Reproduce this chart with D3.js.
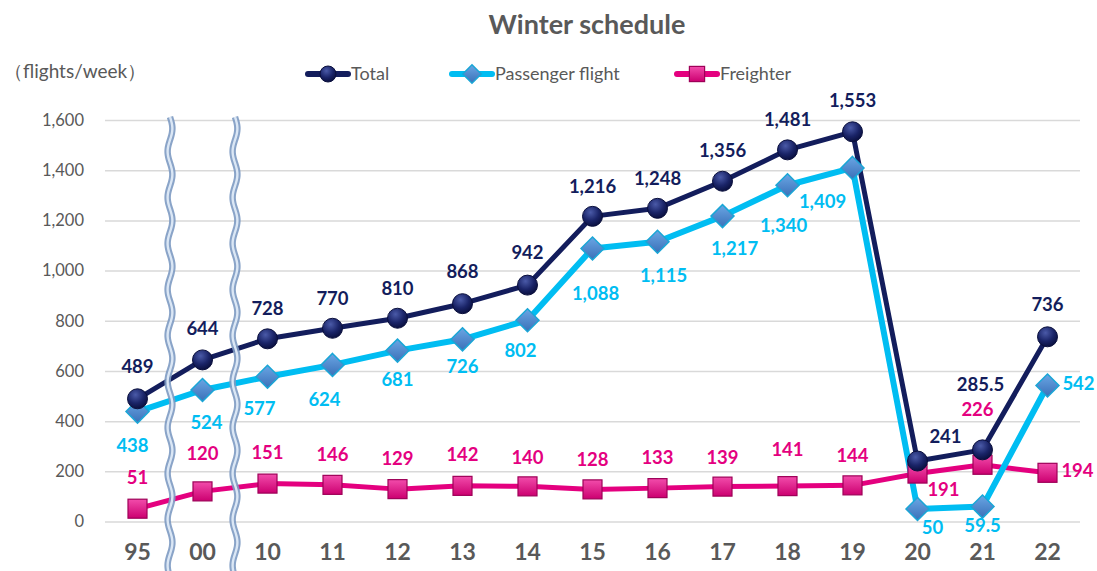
<!DOCTYPE html>
<html>
<head>
<meta charset="utf-8">
<script src="https://cdn.jsdelivr.net/npm/d3@7"></script>
<style>
  html, body { margin: 0; padding: 0; background: #fff; }
  svg { display: block; font-family: Lato, "Open Sans", sans-serif; }
  .axis text { fill: #595959; }
  .grid line { stroke: #d9d9d9; stroke-width: 1.5; }
</style>
</head>
<body>
<svg id="chart" width="1097" height="571"></svg>
<script>
// Winter schedule data (flights/week)
const years = ['95', '00', '10', '11', '12', '13', '14', '15', '16', '17', '18', '19', '20', '21', '22'];
const total = [489, 644, 728, 770, 810, 868, 942, 1216, 1248, 1356, 1481, 1553, 241, 285.5, 736];
const passenger = [438, 524, 577, 624, 681, 726, 802, 1088, 1115, 1217, 1340, 1409, 50, 59.5, 542];
const freighter = [51, 120, 151, 146, 129, 142, 140, 128, 133, 139, 141, 144, 191, 226, 194];
const yTicks = [0, 200, 400, 600, 800, 1000, 1200, 1400, 1600];

// label nudges (dx, dy) from each point, kept apart from the values
const totalLabelPos = [[0,-32],[0,-31],[0,-30],[0,-30],[0,-30],[0,-32],[0,-33],[0,-30],[0,-30],[0,-31],[0,-30],[0,-31],[28,-24],[-2,-65],[0,-32]];
const passLabelPos = [[-5,34],[4,33],[-8,32],[-8,35],[0,29],[0,27],[-7,30],[3,45],[6,34],[12,32],[-4,40],[-30,34],[15,19],[0,19],[31,-2]];
const freightLabelPos = [[0,-31],[0,-38],[0,-31],[0,-30],[0,-31],[0,-31],[0,-29],[0,-30],[0,-31],[0,-29],[0,-37],[0,-30],[26,16],[-5,-55],[30,-2]];

const colors = { total: '#131d5c', passenger: '#00bdf2', freighter: '#e4007f' };

const svg = d3.select('#chart');
const margin = { left: 105, right: 1080, top: 120, bottom: 521.5 };

const x = d3.scaleBand().domain(years).range([margin.left, margin.right]);
const cx = (d, i) => x(years[i]) + x.bandwidth() / 2;
const y = d3.scaleLinear().domain([0, 1600]).range([margin.bottom, margin.top]);

// gradients for the 3D-ish markers
const defs = svg.append('defs');
const rg = defs.append('radialGradient').attr('id', 'gCircle').attr('cx', '40%').attr('cy', '30%').attr('r', '70%');
rg.append('stop').attr('offset', '0%').attr('stop-color', '#4a5aa8');
rg.append('stop').attr('offset', '60%').attr('stop-color', '#1a2468');
rg.append('stop').attr('offset', '100%').attr('stop-color', '#0a1040');
const dg = defs.append('linearGradient').attr('id', 'gDiamond').attr('x1', 0).attr('y1', 0).attr('x2', 0).attr('y2', 1);
dg.append('stop').attr('offset', '0%').attr('stop-color', '#6aa6e4');
dg.append('stop').attr('offset', '100%').attr('stop-color', '#3a70b8');
const sg = defs.append('linearGradient').attr('id', 'gSquare').attr('x1', 0).attr('y1', 0).attr('x2', 0).attr('y2', 1);
sg.append('stop').attr('offset', '0%').attr('stop-color', '#f24cab');
sg.append('stop').attr('offset', '100%').attr('stop-color', '#cc0070');

// Title
svg.append('text')
  .attr('x', 587).attr('y', 34)
  .attr('text-anchor', 'middle')
  .attr('font-size', 27).attr('font-weight', 700)
  .attr('fill', '#595959')
  .text('Winter schedule');

svg.append('text')
  .attr('x', 4).attr('y', 78)
  .attr('font-size', 19).attr('fill', '#595959')
  .text('（flights/week）');

// Gridlines
svg.append('g')
  .attr('class', 'grid')
  .attr('transform', `translate(${margin.left},0)`)
  .call(d3.axisLeft(y).tickValues(yTicks).tickSize(-(margin.right - margin.left)).tickFormat(''))
  .call(g => g.select('.domain').remove());

// Y axis labels
svg.append('g')
  .attr('class', 'axis y')
  .attr('transform', `translate(${margin.left - 21},0)`)
  .call(d3.axisLeft(y).tickValues(yTicks).tickSize(0).tickPadding(0).tickFormat(d3.format(',')))
  .call(g => g.select('.domain').remove())
  .selectAll('text').attr('font-size', 16.5).attr('font-family', 'Lato, sans-serif');

// X axis labels
svg.append('g')
  .attr('class', 'axis x')
  .attr('transform', `translate(0,${margin.bottom})`)
  .call(d3.axisBottom(x).tickSize(0).tickPadding(22))
  .call(g => g.select('.domain').remove())
  .selectAll('text').attr('font-size', 23).attr('font-weight', 700).attr('font-family', 'Lato, sans-serif');

// Lines
const line = d3.line().x(cx).y(d => y(d));
const series = [
  { key: 'freighter', values: freighter, width: 5 },
  { key: 'passenger', values: passenger, width: 6 },
  { key: 'total', values: total, width: 5 }
];

series.forEach(s => {
  svg.append('path')
    .datum(s.values)
    .attr('fill', 'none')
    .attr('stroke', colors[s.key])
    .attr('stroke-width', s.width)
    .attr('stroke-linejoin', 'round')
    .attr('d', line);
});

// Markers
function drawMarker(g, key, mx, my, scale) {
  const k = scale || 1;
  if (key === 'total') {
    g.append('circle').attr('cx', mx).attr('cy', my).attr('r', 10 * k)
      .attr('fill', 'url(#gCircle)').attr('stroke', '#0a0f3c').attr('stroke-width', 1);
  } else if (key === 'passenger') {
    const r = 11.5 * k;
    g.append('path')
      .attr('d', `M${mx},${my - r}L${mx + r},${my}L${mx},${my + r}L${mx - r},${my}Z`)
      .attr('fill', 'url(#gDiamond)').attr('stroke', '#1aa6d6').attr('stroke-width', 1.5);
  } else {
    const h = 9.5 * k;
    g.append('rect').attr('x', mx - h).attr('y', my - h).attr('width', 2 * h).attr('height', 2 * h)
      .attr('fill', 'url(#gSquare)').attr('stroke', '#9e0058').attr('stroke-width', 1.2);
  }
}

series.forEach(s => {
  const g = svg.append('g').attr('class', 'markers ' + s.key);
  s.values.forEach((v, i) => drawMarker(g, s.key, cx(v, i), y(v)));
});

// Break marks (wavy double lines between 95|00 and 00|10)
const wave = d3.line().curve(d3.curveBasis);
[1, 2].forEach(b => {
  const bx = x(years[b]);
  const pts = d3.range(117, 575, 4).map(py => [bx + 2.5 * Math.sin((py - 117) / 46 * 2 * Math.PI), py]);
  svg.append('path').attr('d', wave(pts)).attr('fill', 'none')
    .attr('stroke', '#7d9ac2').attr('stroke-width', 6.5).attr('opacity', 0.9);
  svg.append('path').attr('d', wave(pts)).attr('fill', 'none')
    .attr('stroke', '#dbe7f5').attr('stroke-width', 2.4);
});

// Data labels
const labelSets = [
  { key: 'total', values: total, pos: totalLabelPos },
  { key: 'passenger', values: passenger, pos: passLabelPos },
  { key: 'freighter', values: freighter, pos: freightLabelPos }
];
const fmt = v => (v % 1 ? String(v) : d3.format(',')(v));
labelSets.forEach(s => {
  svg.append('g').selectAll('text')
    .data(s.values)
    .join('text')
    .attr('x', (d, i) => cx(d, i) + s.pos[i][0])
    .attr('y', (d, i) => y(d) + s.pos[i][1])
    .attr('dy', '0.35em')
    .attr('text-anchor', 'middle')
    .attr('font-size', 18.5).attr('font-weight', 700)
    .attr('fill', colors[s.key])
    .text(fmt);
});

// Legend
const legendItems = [
  { key: 'total', label: 'Total', x0: 308 },
  { key: 'passenger', label: 'Passenger flight', x0: 452 },
  { key: 'freighter', label: 'Freighter', x0: 677 }
];
const lg = svg.append('g').attr('class', 'legend');
legendItems.forEach(it => {
  const ly = 74;
  lg.append('line').attr('x1', it.x0).attr('x2', it.x0 + 40).attr('y1', ly).attr('y2', ly)
    .attr('stroke', colors[it.key]).attr('stroke-width', 6).attr('stroke-linecap', 'round');
  drawMarker(lg, it.key, it.x0 + 20, ly, 0.8);
  lg.append('text').attr('x', it.x0 + 43).attr('y', ly).attr('dy', '0.35em')
    .attr('font-size', 18).attr('fill', '#595959').text(it.label);
});
</script>
</body>
</html>
